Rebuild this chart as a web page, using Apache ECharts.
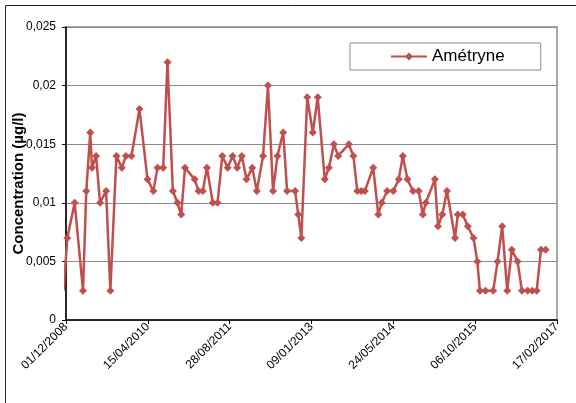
<!DOCTYPE html>
<html>
<head>
<meta charset="utf-8">
<script src="https://cdn.jsdelivr.net/npm/echarts@6/dist/echarts.min.js"></script>
<style>
html,body{margin:0;padding:0;background:#fff;}
#chart{width:576px;height:403px;}
</style>
</head>
<body>
<div id="chart"></div>
<script>
const seriesName = "Amétryne";
const yAxisTitle = "Concentration (µg/l)";
const dates = [
  "2008-11-16","2008-12-09","2009-01-23","2009-03-15","2009-04-04","2009-04-28","2009-05-09","2009-06-03",
  "2009-06-27","2009-08-03","2009-08-29","2009-10-05","2009-11-07","2009-12-02","2010-01-05","2010-02-23",
  "2010-04-13","2010-05-19","2010-06-13","2010-07-18","2010-08-13","2010-09-15","2010-10-13","2010-11-05",
  "2010-11-28","2011-01-26","2011-02-19","2011-03-17","2011-04-11","2011-05-17","2011-06-15","2011-07-14",
  "2011-08-16","2011-09-15","2011-10-13","2011-11-10","2011-12-09","2012-01-13","2012-02-10","2012-03-19",
  "2012-04-18","2012-05-19","2012-06-15","2012-07-20","2012-08-13","2012-10-01","2012-10-20","2012-11-08",
  "2012-12-14","2013-01-17","2013-02-16","2013-03-31","2013-04-25","2013-05-26","2013-06-21","2013-08-25",
  "2013-09-22","2013-10-16","2013-11-09","2013-12-01","2014-01-21","2014-02-21","2014-03-14","2014-04-16",
  "2014-05-24","2014-06-26","2014-07-21","2014-08-18","2014-09-21","2014-10-26","2014-11-20","2014-12-08",
  "2015-02-02","2015-02-21","2015-03-19","2015-04-17","2015-06-05","2015-06-22","2015-07-22","2015-08-22",
  "2015-09-26","2015-10-19","2015-11-04","2015-12-08","2016-01-24","2016-02-20","2016-03-19","2016-04-19",
  "2016-05-17","2016-06-21","2016-07-18","2016-08-22","2016-09-19","2016-10-16","2016-11-11","2016-12-10"
];
const values = [
  0.0025,0.007,0.010,0.0025,0.011,0.016,0.013,0.014,
  0.010,0.011,0.0025,0.014,0.013,0.014,0.014,0.018,
  0.012,0.011,0.013,0.013,0.022,0.011,0.010,0.009,
  0.013,0.012,0.011,0.011,0.013,0.010,0.010,0.014,
  0.013,0.014,0.013,0.014,0.012,0.013,0.011,0.014,
  0.020,0.011,0.014,0.016,0.011,0.011,0.009,0.007,
  0.019,0.016,0.019,0.012,0.013,0.015,0.014,0.015,
  0.014,0.011,0.011,0.011,0.013,0.009,0.010,0.011,
  0.011,0.012,0.014,0.012,0.011,0.011,0.009,0.010,
  0.012,0.008,0.009,0.011,0.007,0.009,0.009,0.008,
  0.007,0.005,0.0025,0.0025,0.0025,0.005,0.008,0.0025,
  0.006,0.005,0.0025,0.0025,0.0025,0.0025,0.006,0.006
];
const xMinDate = "2008-12-01";
const xMaxDate = "2017-02-17";
const xStepDays = 500;
const yTicks = [0, 0.005, 0.01, 0.015, 0.02, 0.025];

function ts(s){ const p = s.split("-").map(Number); return Date.UTC(p[0], p[1]-1, p[2]); }
function fmtDate(v){
  const d = new Date(v);
  const dd = String(d.getUTCDate()).padStart(2,"0");
  const mm = String(d.getUTCMonth()+1).padStart(2,"0");
  return dd + "/" + mm + "/" + d.getUTCFullYear();
}
const DAY = 86400000;
const data = dates.map((d,i) => [ts(d), values[i]]);
const FONT = "Liberation Sans, Arial, sans-serif";

const chart = echarts.init(document.getElementById("chart"), null, {renderer:"canvas"});
chart.setOption({
  animation: false,
  backgroundColor: "#fff",
  textStyle: {fontFamily: FONT},
  graphic: [{
    type: "rect", silent: true, z: -1,
    shape: {x: 5.5, y: 5.5, width: 700, height: 600},
    style: {fill: null, stroke: "#222", lineWidth: 1}
  }],
  grid: {
    left: 66, right: 19, top: 27, bottom: 83,
    containLabel: false, outerBoundsMode: "none",
    show: true, borderColor: "#8c8c8c", borderWidth: 1.5, backgroundColor: "#fff"
  },
  legend: {
    left: 350, top: 43,
    padding: [5, 36, 5, 40],
    borderColor: "#8c8c8c", borderWidth: 1,
    itemWidth: 36, itemHeight: 10, itemGap: 4,
    textStyle: {fontSize: 17, color: "#000", fontFamily: FONT},
    data: [seriesName]
  },
  xAxis: {
    type: "value",
    min: ts(xMinDate), max: ts(xMaxDate),
    interval: xStepDays * DAY,
    axisLine: {show: true, lineStyle: {color: "#000", width: 1.5}},
    axisTick: {show: true, length: 4, lineStyle: {color: "#000"}},
    splitLine: {show: false},
    axisLabel: {
      rotate: 45, fontSize: 12, color: "#000", margin: 5,
      fontFamily: FONT, hideOverlap: false,
      formatter: v => fmtDate(v)
    }
  },
  yAxis: {
    type: "value",
    min: yTicks[0], max: yTicks[yTicks.length-1], interval: yTicks[1]-yTicks[0],
    name: yAxisTitle, nameLocation: "middle", nameGap: 40, nameRotate: 90,
    nameMoveOverlap: false,
    nameTextStyle: {fontSize: 15, fontWeight: "bold", color: "#000", fontFamily: FONT, padding: [0, 20, 0, 0]},
    axisLine: {show: true, lineStyle: {color: "#000", width: 1.5}},
    axisTick: {show: true, length: 4, lineStyle: {color: "#000"}},
    splitLine: {show: true, lineStyle: {color: "#8c8c8c", width: 1}},
    axisLabel: {
      fontSize: 12, color: "#000", margin: 10,
      fontFamily: FONT,
      formatter: v => String(+v.toFixed(3)).replace(".", ",")
    }
  },
  series: [{
    name: seriesName,
    type: "line",
    data: data,
    clip: true,
    color: "#C0504D",
    lineStyle: {color: "#C0504D", width: 2.5},
    itemStyle: {color: "#C0504D"},
    symbol: "diamond",
    symbolSize: 8,
    showAllSymbol: true
  }]
});
</script>
</body>
</html>
